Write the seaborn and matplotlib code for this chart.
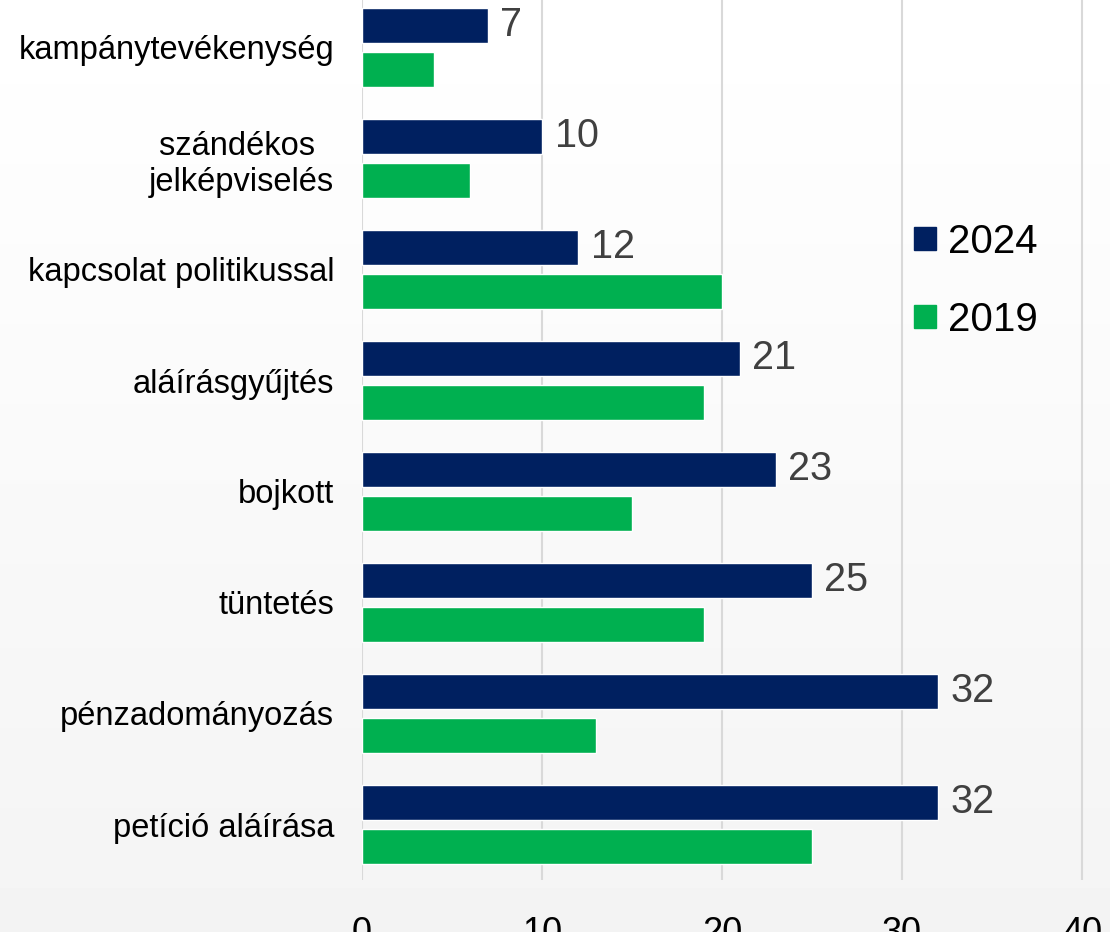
#!/usr/bin/env python3
# -*- coding: utf-8 -*-
import numpy as np
import pandas as pd
import seaborn as sns
import matplotlib.pyplot as plt
import matplotlib.patches as mpatches

# categories top to bottom
categories = ['kampánytevékenység', 'szándékos \njelképviselés', 'kapcsolat politikussal',
              'aláírásgyűjtés', 'bojkott', 'tüntetés', 'pénzadományozás', 'petíció aláírása']
values_2024 = [7, 10, 12, 21, 23, 25, 32, 32]
values_2019 = [4, 6, 20, 19, 15, 19, 13, 25]
years = ['2024', '2019']
colors = {'2024': '#002060', '2019': '#00b050'}
x_ticks = [0, 10, 20, 30, 40]

df = pd.DataFrame({
    'category': categories * 2,
    'year': ['2024'] * len(categories) + ['2019'] * len(categories),
    'value': values_2024 + values_2019,
})

sns.set_theme(style='white')
plt.rcParams['font.family'] = ['Liberation Sans', 'DejaVu Sans']

fig = plt.figure(figsize=(11.10, 9.32), dpi=100)

# faint light background, slightly greyer towards the bottom
bg = fig.add_axes([0, 0, 1, 1], zorder=-1)
grad = np.linspace(1.0, 0.955, 256).reshape(-1, 1)
bg.imshow(grad, aspect='auto', cmap='gray', vmin=0, vmax=1, extent=[0, 1, 0, 1])
bg.axis('off')

ax = fig.add_axes([362 / 1110, 52 / 932, 1 - 362 / 1110, 888 / 932])
ax.set_facecolor('none')

sns.barplot(data=df, y='category', x='value', hue='year', hue_order=years,
            palette=colors, saturation=1, orient='h', width=0.8, gap=0.2,
            legend=False, ax=ax, zorder=3)

ax.bar_label(ax.containers[0], fmt='%d', padding=9, fontsize=28.5, color='#404040')

ax.set_xlim(0, 748 / 18)
ax.set_ylim(7.5, -0.5)
ax.set_xticks(x_ticks)
ax.set_xticklabels([str(t) for t in x_ticks], fontsize=26, color='#000000')
ax.tick_params(axis='x', length=0, pad=26)
ax.tick_params(axis='y', length=0, pad=20, labelsize=23.5, labelcolor='#000000')
for lab in ax.get_yticklabels():
    lab.set_multialignment('center')
ax.set_xlabel('')
ax.set_ylabel('')
ax.grid(axis='x', color='#d9d9d9', linewidth=1.5, zorder=0)
for s in ax.spines.values():
    s.set_visible(False)

handles = [mpatches.Patch(color=colors[y], label=y) for y in years]
ax.legend(handles=handles, loc='center left', bbox_to_anchor=(914 / 1110, 1 - 281 / 932),
          bbox_transform=fig.transFigure, frameon=False, fontsize=29, labelcolor='#000000',
          handlelength=0.55, handleheight=0.5, handletextpad=0.3,
          labelspacing=1.0, borderpad=0, borderaxespad=0)

fig.savefig('out.png', dpi=100)
